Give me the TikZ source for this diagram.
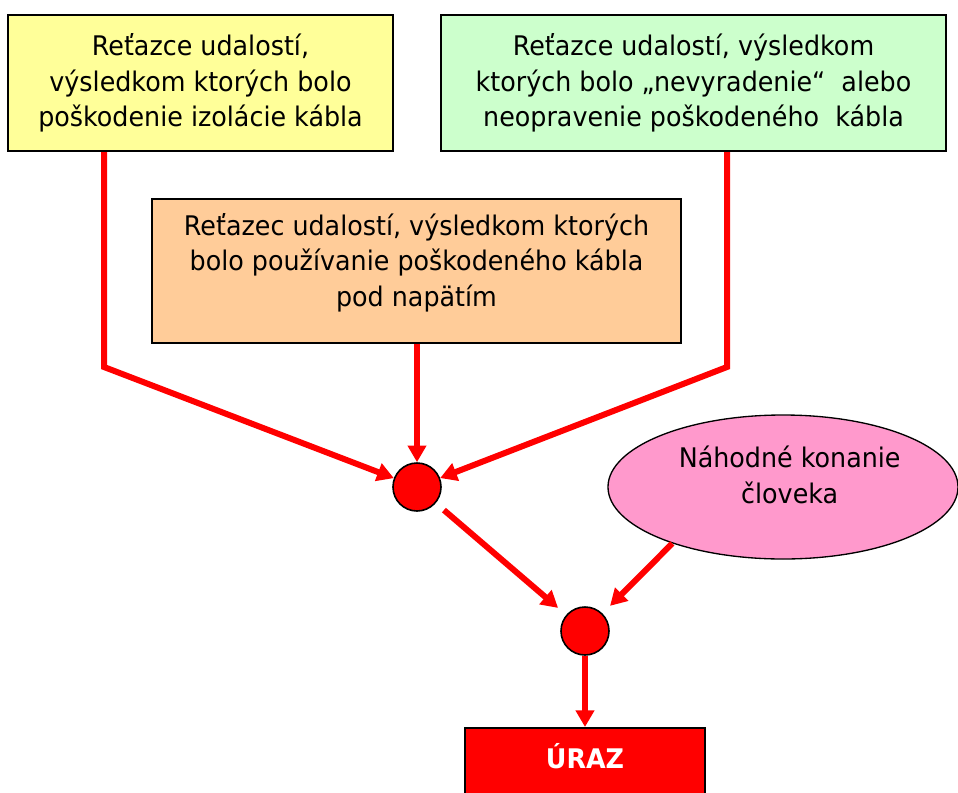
\documentclass[tikz,border=0pt]{standalone}
\usepackage{fontspec}
\setmainfont{DejaVu Sans}[FakeStretch=0.94]
\usetikzlibrary{arrows.meta,shapes.geometric}
\definecolor{boxyellow}{HTML}{FFFF99}
\definecolor{boxgreen}{HTML}{CCFFCC}
\definecolor{boxorange}{HTML}{FFCC99}
\definecolor{ellpink}{HTML}{FF99CC}
\definecolor{flowred}{HTML}{FF0000}
\tikzset{
  chainbox/.style={draw=black, line width=1.5pt, rectangle, align=center,
    inner sep=0pt, font=\fontsize{20.25pt}{26.6pt}\selectfont},
  gate/.style={circle, draw=black, line width=1.2pt, fill=flowred,
    minimum size=36pt, inner sep=0pt},
  flow/.style={draw=flowred, line width=4.5pt, line join=miter,
    -{Triangle[width=13.5pt,length=12.5pt]}},
}
\begin{document}
\begin{tikzpicture}[x=0.75pt,y=-0.75pt]
\clip (0,0) rectangle (958,793);
\fill[white] (0,0) rectangle (958,793);

% event chains
\node[chainbox, fill=boxyellow, minimum width=288.75pt, minimum height=102pt]
  (yel) at (200.5,83) {Reťazce udalostí,\\výsledkom ktorých bolo\\poškodenie izolácie kábla};
\node[chainbox, fill=boxgreen, minimum width=378.75pt, minimum height=102pt]
  (grn) at (693.5,83) {Reťazce udalostí, výsledkom\\ktorých bolo „nevyradenie“\ \ alebo\\neopravenie poškodeného\ \ kábla};
\node[chainbox, fill=boxorange, minimum width=396.75pt, minimum height=108pt]
  (org) at (416.5,271) {Reťazec udalostí, výsledkom ktorých\\bolo používanie poškodeného kábla\\pod napätím\\[-10pt]};

% human action
\node[ellipse, draw=black, line width=1pt, fill=ellpink, minimum width=262.5pt,
  minimum height=108pt, inner sep=0pt, align=center,
  font=\fontsize{20.25pt}{26.6pt}\selectfont]
  (ell) at (783,487) {\hspace*{10pt}Náhodné konanie\\\hspace*{10pt}človeka\\[-8pt]};

% AND gates
\node[gate] (c1) at (417,487) {};
\node[gate] (c2) at (585,631) {};

% injury
\node[draw=black, line width=1.5pt, fill=flowred, anchor=north, inner sep=0pt,
  minimum width=180pt, text height=30pt, text depth=50pt, text=white,
  font=\fontsize{20.25pt}{24pt}\selectfont\bfseries]
  (uraz) at (585,727) {ÚRAZ};

% connectors
\coordinate (ybend) at (104,367);
\coordinate (gbend) at (727,367);
\draw[flow] (yel.south -| ybend) -- (ybend) -- (c1);
\draw[flow] (grn.south -| gbend) -- (gbend) -- (c1);
\draw[flow] (org.south -| c1) -- (c1);
\draw[flow, shorten <=8pt, shorten >=8pt] (c1) -- (c2);
\draw[flow, shorten >=8pt] (ell.207) -- (c2);
\draw[flow] (c2) -- (uraz);
\end{tikzpicture}
\end{document}
